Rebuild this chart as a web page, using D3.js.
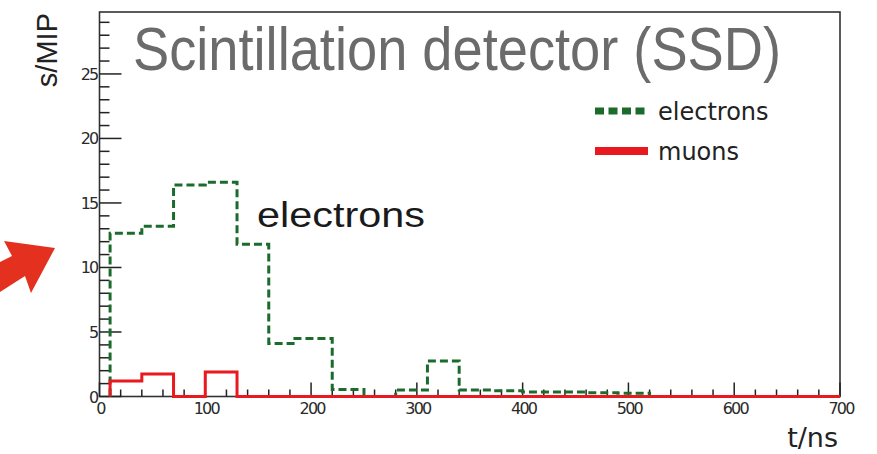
<!DOCTYPE html>
<html>
<head>
<meta charset="utf-8">
<script src="https://cdn.jsdelivr.net/npm/d3@7"></script>
<style>
  html, body { margin: 0; padding: 0; background: #fff; }
  svg { display: block; }
</style>
</head>
<body>
<div id="chart"></div>
<script>
// Histogram data (t in ns, signal in MIP)
const electronEdges = [10, 40, 70, 100, 130, 160, 183, 220, 250, 280, 310, 340, 370, 400, 430, 460, 490, 520];
const electronValues = [12.65, 13.2, 16.4, 16.6, 11.8, 4.1, 4.5, 0.55, 0, 0.5, 2.75, 0.5, 0.45, 0.35, 0.35, 0.3, 0.25];
const muonEdges = [10, 40, 70, 100, 130, 700];
const muonValues = [1.2, 1.75, 0, 1.9, 0];
const xTicks = [0, 100, 200, 300, 400, 500, 600, 700];
const yTicks = [0, 5, 10, 15, 20, 25];
const legendItems = ['electrons', 'muons'];

const W = 877, H = 454;
const plot = { left: 99.5, right: 840, top: 12, bottom: 396.5 };

const svg = d3.select('#chart').append('svg')
    .attr('width', W)
    .attr('height', H);

const x = d3.scaleLinear().domain([0, 700]).range([plot.left, plot.right]);
const y = d3.scaleLinear().domain([0, 29.8]).range([plot.bottom, plot.top]);

// step outline of a histogram: up from zero, across each bin, down to zero
function histPoints(edges, values) {
    const pts = [[edges[0], 0]];
    values.forEach((v, i) => {
        pts.push([edges[i], v]);
        pts.push([edges[i + 1], v]);
    });
    pts.push([edges[edges.length - 1], 0]);
    return pts;
}
const line = d3.line().x(d => x(d[0])).y(d => y(d[1]));

const green = '#1b6b2c';
const red = '#e8191f';
const axisColor = '#222';

// frame
svg.append('rect')
    .attr('x', plot.left)
    .attr('y', plot.top)
    .attr('width', plot.right - plot.left)
    .attr('height', plot.bottom - plot.top)
    .attr('fill', 'none')
    .attr('stroke', '#333')
    .attr('stroke-width', 1.6);

// y axis ticks (inside), major every 5 and minor every 1
const yMinor = d3.range(0, 30, 1).filter(v => v % 5 !== 0);
svg.append('g').selectAll('line.ymin')
    .data(yMinor).enter().append('line')
    .attr('x1', plot.left).attr('x2', plot.left + 10)
    .attr('y1', d => y(d)).attr('y2', d => y(d))
    .attr('stroke', axisColor).attr('stroke-width', 1.5);
svg.append('g').selectAll('line.ymaj')
    .data(yTicks).enter().append('line')
    .attr('x1', plot.left).attr('x2', plot.left + 22)
    .attr('y1', d => y(d)).attr('y2', d => y(d))
    .attr('stroke', axisColor).attr('stroke-width', 1.5);
svg.append('g').selectAll('text')
    .data(yTicks).enter().append('text')
    .attr('x', plot.left - 2)
    .attr('y', d => y(d) + 6)
    .attr('text-anchor', 'end')
    .attr('font-family', 'DejaVu Sans')
    .attr('font-size', 16)
    .attr('letter-spacing', -1.8)
    .attr('fill', '#2a2a2a')
    .text(d => d);

// x axis ticks (inside), major every 100 and minor every 20
const xMinor = d3.range(0, 701, 20).filter(v => v % 100 !== 0);
svg.append('g').selectAll('line.xmin')
    .data(xMinor).enter().append('line')
    .attr('x1', d => x(d)).attr('x2', d => x(d))
    .attr('y1', plot.bottom).attr('y2', plot.bottom - 7)
    .attr('stroke', axisColor).attr('stroke-width', 1.5);
svg.append('g').selectAll('line.xmaj')
    .data(xTicks).enter().append('line')
    .attr('x1', d => x(d)).attr('x2', d => x(d))
    .attr('y1', plot.bottom).attr('y2', plot.bottom - 14)
    .attr('stroke', axisColor).attr('stroke-width', 1.5);
svg.append('g').selectAll('text')
    .data(xTicks).enter().append('text')
    .attr('x', d => x(d) + 1)
    .attr('y', plot.bottom + 17)
    .attr('text-anchor', 'middle')
    .attr('font-family', 'DejaVu Sans')
    .attr('font-size', 16)
    .attr('letter-spacing', -1.8)
    .attr('fill', '#2a2a2a')
    .text(d => d);

// histograms
svg.append('path')
    .datum(histPoints(electronEdges, electronValues))
    .attr('d', line)
    .attr('fill', 'none')
    .attr('stroke', green)
    .attr('stroke-width', 3)
    .attr('stroke-dasharray', '8 4');

svg.append('path')
    .datum(histPoints(muonEdges, muonValues))
    .attr('d', line)
    .attr('fill', 'none')
    .attr('stroke', red)
    .attr('stroke-width', 3);

// axis titles
svg.append('text')
    .attr('transform', 'translate(57,13) rotate(-90)')
    .attr('text-anchor', 'end')
    .attr('font-family', 'Liberation Sans')
    .attr('font-size', 29)
    .attr('fill', '#222')
    .text('s/MIP');

svg.append('text')
    .attr('x', 838)
    .attr('y', 447)
    .attr('text-anchor', 'end')
    .attr('font-family', 'DejaVu Sans')
    .attr('font-size', 27)
    .attr('fill', '#222')
    .text('t/ns');

// title
svg.append('text')
    .attr('x', 133)
    .attr('y', 70)
    .attr('font-family', 'Liberation Sans')
    .attr('font-size', 62)
    .attr('textLength', 648)
    .attr('lengthAdjust', 'spacingAndGlyphs')
    .attr('fill', '#6b6b6b')
    .text('Scintillation detector (SSD)');

// annotation
svg.append('text')
    .attr('x', 257)
    .attr('y', 227)
    .attr('font-family', 'Liberation Sans')
    .attr('font-size', 35)
    .attr('textLength', 168)
    .attr('lengthAdjust', 'spacingAndGlyphs')
    .attr('fill', '#1a1a1a')
    .text('electrons');

// legend
const legend = svg.append('g').attr('transform', 'translate(595,111)');
legend.selectAll('line')
    .data(legendItems).enter().append('line')
    .attr('x1', 0).attr('x2', 53)
    .attr('y1', (d, i) => i * 40).attr('y2', (d, i) => i * 40)
    .attr('stroke', (d, i) => i === 0 ? green : red)
    .attr('stroke-width', (d, i) => i === 0 ? 7 : 8)
    .attr('stroke-dasharray', (d, i) => i === 0 ? '9 4.5' : null);
legend.selectAll('text')
    .data(legendItems).enter().append('text')
    .attr('x', 63)
    .attr('y', (d, i) => i * 40 + 9)
    .attr('font-family', 'DejaVu Sans')
    .attr('font-size', 24)
    .attr('fill', '#222')
    .text(d => d);

// hand-drawn red arrowhead on the left margin
svg.append('path')
    .attr('d', 'M0,262 L12,256 L4,241 L55,248 L31,293 L25,276 L0,292 Z')
    .attr('fill', '#e3301f');
</script>
</body>
</html>
